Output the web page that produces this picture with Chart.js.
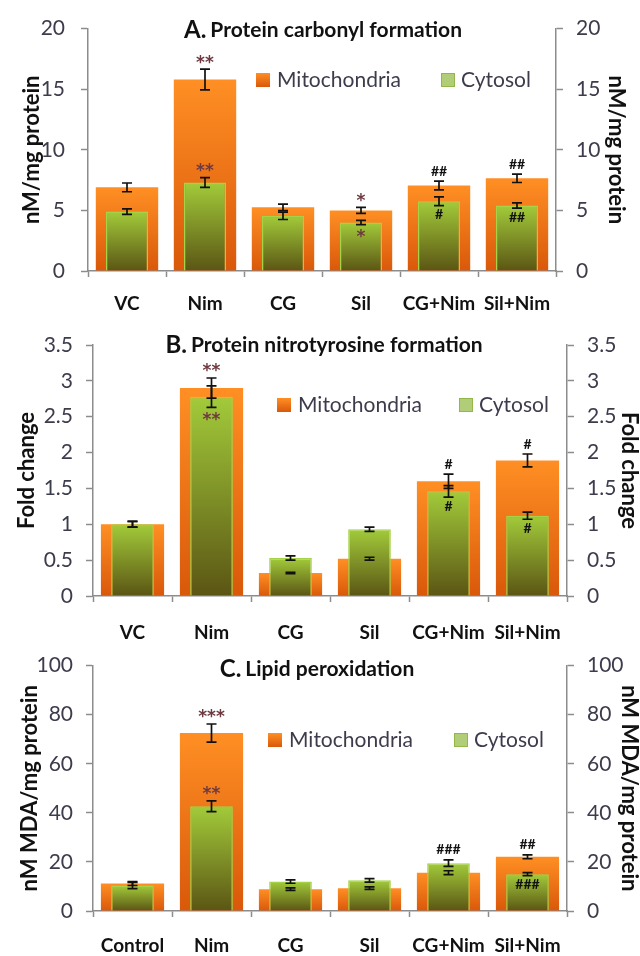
<!DOCTYPE html>
<html><head><meta charset="utf-8">
<script src="https://cdn.jsdelivr.net/npm/chart.js@4.4.1/dist/chart.umd.min.js"></script>
<style>
html,body{margin:0;padding:0;background:#fff;}
body{width:640px;height:956px;position:relative;overflow:hidden;font-family:Lato,sans-serif;}
canvas{position:absolute;left:0;}
</style></head><body>
<canvas id="cA" width="640" height="318" style="top:0px"></canvas>
<canvas id="cB" width="640" height="322" style="top:318px"></canvas>
<canvas id="cC" width="640" height="316" style="top:640px"></canvas>
<script>
// ---------- DATA ----------
const seriesNames = ["Mitochondria", "Cytosol"];

// Panel A: Protein carbonyl formation
const categoriesA = ["VC", "Nim", "CG", "Sil", "CG+Nim", "Sil+Nim"];
const mitoA = [6.9, 15.8, 5.25, 5.0, 7.05, 7.65];
const mitoErrA = [0.36, 0.85, 0.27, 0.25, 0.36, 0.35];
const cytoA = [4.9, 7.3, 4.55, 4.0, 5.75, 5.4];
const cytoErrA = [0.22, 0.4, 0.3, 0.18, 0.36, 0.22];
const mitoMarksA = ["", "**", "", "*", "##", "##"];
const cytoMarksA = ["", "**", "", "*", "#", "##"];
const cytoMarkPosA = ["above", "above", "above", "below", "below", "below"];
const ticksA = [0, 5, 10, 15, 20];

// Panel B: Protein nitrotyrosine formation
const categoriesB = ["VC", "Nim", "CG", "Sil", "CG+Nim", "Sil+Nim"];
const mitoB = [1.0, 2.9, 0.32, 0.52, 1.6, 1.89];
const mitoErrB = [0.04, 0.14, 0.01, 0.02, 0.1, 0.09];
const cytoB = [1.0, 2.78, 0.53, 0.93, 1.46, 1.12];
const cytoErrB = [0.04, 0.15, 0.03, 0.03, 0.08, 0.05];
const mitoMarksB = ["", "**", "", "", "#", "#"];
const cytoMarksB = ["", "**", "", "", "#", "#"];
const cytoMarkPosB = ["below", "below", "below", "below", "below", "below"];
const ticksB = [0, 0.5, 1, 1.5, 2, 2.5, 3, 3.5];

// Panel C: Lipid peroxidation
const categoriesC = ["Control", "Nim", "CG", "Sil", "CG+Nim", "Sil+Nim"];
const mitoC = [11.2, 72.5, 8.9, 9.3, 15.6, 22.1];
const mitoErrC = [0.8, 3.7, 0.5, 0.5, 0.8, 0.8];
const cytoC = [10.4, 42.7, 12.0, 12.5, 19.5, 15.0];
const cytoErrC = [1.3, 2.2, 0.7, 0.7, 1.3, 0.6];
const mitoMarksC = ["", "***", "", "", "", "##"];
const cytoMarksC = ["", "**", "", "", "###", "###"];
const cytoMarkPosC = ["above", "above", "above", "above", "above", "below"];
const ticksC = [0, 20, 40, 60, 80, 100];

// ---------- STYLE / LAYOUT ----------
const FONT = "Lato, 'Open Sans', sans-serif";
const ORANGE_TOP = "#FF8F24", ORANGE_BOT = "#D9580A";
const GREEN_TOP = "#A2CB3A", GREEN_BOT = "#5B5514";
const AXIS = "#8c8c8c";
const TICKTXT = "#3c3c4c";

function barFill(c1, c2) {
  return (context) => {
    const chart = context.chart;
    const area = chart.chartArea;
    if (!area || typeof context.raw !== "number") return c1;
    const y0 = chart.scales.y.getPixelForValue(context.raw);
    const g = chart.ctx.createLinearGradient(0, y0, 0, area.bottom);
    g.addColorStop(0, c1);
    g.addColorStop(1, c2);
    return g;
  };
}

const decoPlugin = {
  id: "deco",
  afterDatasetsDraw(chart, args, opts) {
    const ctx = chart.ctx;
    const ys = chart.scales.y;
    // error bars
    opts.errors.forEach((errs, di) => {
      const meta = chart.getDatasetMeta(di);
      const vals = chart.data.datasets[di].data;
      meta.data.forEach((bar, i) => {
        const v = vals[i], e = errs[i];
        const yt = ys.getPixelForValue(v + e), yb = ys.getPixelForValue(v - e);
        ctx.save();
        ctx.strokeStyle = "#111";
        ctx.lineWidth = 1.7;
        ctx.beginPath();
        ctx.moveTo(bar.x, yt); ctx.lineTo(bar.x, yb);
        ctx.moveTo(bar.x - 5, yt); ctx.lineTo(bar.x + 5, yt);
        ctx.moveTo(bar.x - 5, yb); ctx.lineTo(bar.x + 5, yb);
        ctx.stroke();
        ctx.restore();
      });
    });
    // significance marks
    opts.marks.forEach((marks, di) => {
      const meta = chart.getDatasetMeta(di);
      const vals = chart.data.datasets[di].data;
      const errs = opts.errors[di];
      const pos = opts.markPos[di];
      meta.data.forEach((bar, i) => {
        const m = marks[i];
        if (!m) return;
        const isStar = m.indexOf("*") >= 0;
        let y;
        if (pos[i] === "above") y = ys.getPixelForValue(vals[i] + errs[i]) - 10;
        else y = ys.getPixelForValue(vals[i] - errs[i]) + 9;
        ctx.save();
        ctx.textAlign = "center";
        ctx.textBaseline = "middle";
        if (isStar) {
          ctx.font = "bold 17px 'DejaVu Sans', sans-serif";
          ctx.fillStyle = "#6e3a40";
          ctx.fillText(m, bar.x, y + 4);
        } else {
          ctx.font = "bold 14px " + FONT;
          ctx.fillStyle = "#111";
          ctx.fillText(m, bar.x, y);
        }
        ctx.restore();
      });
    });
  },
  afterDraw(chart, args, opts) {
    const ctx = chart.ctx;
    // title
    ctx.save();
    ctx.textBaseline = "middle";
    ctx.fillStyle = "#111";
    ctx.font = "bold 24px " + FONT;
    const w1 = ctx.measureText(opts.titleLetter).width;
    ctx.font = "bold 21px " + FONT;
    const w2 = ctx.measureText(opts.titleText).width;
    const gap = 4;
    const x0 = opts.titleX - (w1 + gap + w2) / 2;
    ctx.textAlign = "left";
    ctx.font = "bold 24px " + FONT;
    ctx.fillText(opts.titleLetter, x0, opts.titleY);
    ctx.font = "bold 21px " + FONT;
    ctx.fillText(opts.titleText, x0 + w1 + gap, opts.titleY);
    // legend
    const ly = opts.legendY;
    const bs = 14;
    const [ox, gx] = opts.legendX;
    const og = ctx.createLinearGradient(0, ly - bs / 2, 0, ly + bs / 2);
    og.addColorStop(0, ORANGE_TOP); og.addColorStop(1, ORANGE_BOT);
    ctx.fillStyle = og;
    ctx.fillRect(ox, ly - bs / 2, bs, bs);
    ctx.fillStyle = "#B2CD78";
    ctx.fillRect(gx, ly - bs / 2, bs, bs);
    ctx.strokeStyle = "#93B84A";
    ctx.lineWidth = 1;
    ctx.strokeRect(gx + 0.5, ly - bs / 2 + 0.5, bs - 1, bs - 1);
    ctx.font = "21px " + FONT;
    ctx.fillStyle = "#3c3c4c";
    ctx.fillText(chart.data.datasets[0].label, ox + bs + 7, ly);
    ctx.fillText(chart.data.datasets[1].label, gx + bs + 6, ly);
    ctx.restore();
  }
};

function makeChart(id, cfg) {
  const canvas = document.getElementById(id);
  const H = canvas.height;
  const yAxis = (pos) => ({
    type: "linear",
    position: pos,
    min: cfg.ticks[0],
    max: cfg.ticks[cfg.ticks.length - 1],
    afterBuildTicks: (s) => { s.ticks = cfg.ticks.map(v => ({ value: v })); },
    afterFit: (s) => { s.width = pos === "left" ? cfg.left : 640 - cfg.right; },
    grid: { drawOnChartArea: false, drawTicks: true, tickLength: 7, tickColor: AXIS, color: AXIS, tickWidth: 1.5 },
    border: { color: AXIS, width: 1.5 },
    ticks: {
      color: TICKTXT,
      font: { family: FONT, size: 21 },
      padding: pos === "left" ? cfg.lpad : cfg.rpad,
      callback: (v) => String(v)
    },
    title: {
      display: true,
      text: cfg.yTitle,
      color: "#111",
      font: { family: FONT, size: 22, weight: "bold", lineHeight: 1.0 },
      padding: { top: pos === "left" ? cfg.ltitlePad : cfg.rtitlePad, bottom: 0 }
    }
  });
  return new Chart(canvas, {
    type: "bar",
    data: {
      labels: cfg.categories,
      datasets: [
        {
          label: seriesNames[0], data: cfg.mito, order: 2,
          backgroundColor: barFill(ORANGE_TOP, ORANGE_BOT),
          borderWidth: 0, barPercentage: 0.8, categoryPercentage: 1.0, grouped: false
        },
        {
          label: seriesNames[1], data: cfg.cyto, order: 1,
          backgroundColor: barFill(GREEN_TOP, GREEN_BOT),
          borderColor: "#A6D24A", borderWidth: 1.5,
          barPercentage: 0.54, categoryPercentage: 1.0, grouped: false
        }
      ]
    },
    options: {
      responsive: false,
      animation: false,
      layout: { padding: { top: cfg.plotTop, left: 0, right: 0, bottom: 0 } },
      plugins: {
        legend: { display: false },
        title: { display: false },
        tooltip: { enabled: false },
        deco: {
          errors: [cfg.mitoErr, cfg.cytoErr],
          marks: [cfg.mitoMarks, cfg.cytoMarks],
          markPos: [cfg.categories.map(() => "above"), cfg.cytoMarkPos],
          titleLetter: cfg.titleLetter, titleText: cfg.titleText,
          titleX: cfg.titleX, titleY: cfg.titleY,
          legendX: cfg.legendX, legendY: cfg.legendY
        }
      },
      scales: {
        x: {
          type: "category",
          afterFit: (s) => { s.height = H - cfg.plotBottom; },
          grid: { offset: true, drawOnChartArea: false, drawTicks: true, tickLength: 6, tickColor: AXIS, color: AXIS, tickWidth: 1.5 },
          border: { color: AXIS, width: 1.5 },
          ticks: { color: "#111", font: { family: FONT, size: 19, weight: "bold" }, padding: cfg.xpad, maxRotation: 0, autoSkip: false }
        },
        y: yAxis("left"),
        y2: yAxis("right")
      }
    },
    plugins: [decoPlugin]
  });
}

makeChart("cA", {
  categories: categoriesA, mito: mitoA, cyto: cytoA, mitoErr: mitoErrA, cytoErr: cytoErrA,
  mitoMarks: mitoMarksA, cytoMarks: cytoMarksA, cytoMarkPos: cytoMarkPosA, ticks: ticksA,
  plotTop: 20, plotBottom: 271, left: 88, right: 556, lpad: 16, rpad: 13, xpad: 15,
  yTitle: "nM/mg protein", ltitlePad: 21, rtitlePad: 13,
  titleLetter: "A.", titleText: "Protein carbonyl formation", titleX: 323, titleY: 30,
  legendX: [256, 441], legendY: 80
});
makeChart("cB", {
  categories: categoriesB, mito: mitoB, cyto: cytoB, mitoErr: mitoErrB, cytoErr: cytoErrB,
  mitoMarks: mitoMarksB, cytoMarks: cytoMarksB, cytoMarkPos: cytoMarkPosB, ticks: ticksB,
  plotTop: 27, plotBottom: 278, left: 93, right: 567, lpad: 13, rpad: 13, xpad: 19,
  yTitle: "Fold change", ltitlePad: 16, rtitlePad: 0,
  titleLetter: "B.", titleText: "Protein nitrotyrosine formation", titleX: 324, titleY: 27,
  legendX: [277, 459], legendY: 87
});
makeChart("cC", {
  categories: categoriesC, mito: mitoC, cyto: cytoC, mitoErr: mitoErrC, cytoErr: cytoErrC,
  mitoMarks: mitoMarksC, cytoMarks: cytoMarksC, cytoMarkPos: cytoMarkPosC, ticks: ticksC,
  plotTop: 20, plotBottom: 271, left: 93, right: 567, lpad: 13, rpad: 13, xpad: 17,
  yTitle: "nM MDA/mg protein", ltitlePad: 19, rtitlePad: 0,
  titleLetter: "C.", titleText: "Lipid peroxidation", titleX: 317, titleY: 29,
  legendX: [268, 454], legendY: 100
});
</script>
</body></html>
